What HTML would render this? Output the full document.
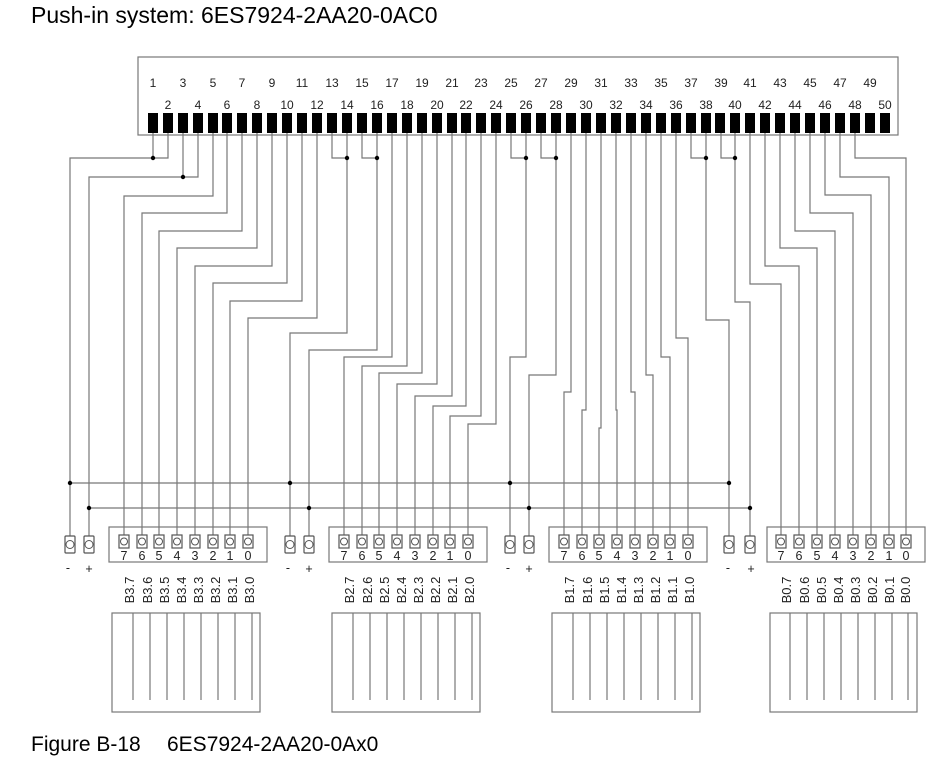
<!DOCTYPE html>
<html><head><meta charset="utf-8"><style>
html,body{margin:0;padding:0;background:#fff;}
svg{display:block;}
.w{fill:none;stroke:#777;stroke-width:1.2;}
.t{font-family:"Liberation Sans",sans-serif;fill:#222;}
</style></head><body>
<svg width="937" height="772" viewBox="0 0 937 772" xmlns="http://www.w3.org/2000/svg">
<text class="t" x="31" y="23" font-size="23" style="fill:#000">Push-in system: 6ES7924-2AA20-0AC0</text>
<text class="t" x="31" y="751" font-size="21" style="fill:#000">Figure B-18</text>
<text class="t" x="167" y="751" font-size="21" style="fill:#000">6ES7924-2AA20-0Ax0</text>

<rect x="138" y="57" width="760" height="78" fill="none" stroke="#777" stroke-width="1.2"/>
<g class="t" font-size="12" text-anchor="middle">
<text x="153" y="87">1</text><text x="183" y="87">3</text><text x="213" y="87">5</text><text x="242" y="87">7</text><text x="272" y="87">9</text><text x="302" y="87">11</text><text x="332" y="87">13</text><text x="362" y="87">15</text><text x="392" y="87">17</text><text x="422" y="87">19</text><text x="452" y="87">21</text><text x="481" y="87">23</text><text x="511" y="87">25</text><text x="541" y="87">27</text><text x="571" y="87">29</text><text x="601" y="87">31</text><text x="631" y="87">33</text><text x="661" y="87">35</text><text x="691" y="87">37</text><text x="721" y="87">39</text><text x="750" y="87">41</text><text x="780" y="87">43</text><text x="810" y="87">45</text><text x="840" y="87">47</text><text x="870" y="87">49</text>
<text x="168" y="109">2</text><text x="198" y="109">4</text><text x="227" y="109">6</text><text x="257" y="109">8</text><text x="287" y="109">10</text><text x="317" y="109">12</text><text x="347" y="109">14</text><text x="377" y="109">16</text><text x="407" y="109">18</text><text x="437" y="109">20</text><text x="466" y="109">22</text><text x="496" y="109">24</text><text x="526" y="109">26</text><text x="556" y="109">28</text><text x="586" y="109">30</text><text x="616" y="109">32</text><text x="646" y="109">34</text><text x="676" y="109">36</text><text x="706" y="109">38</text><text x="735" y="109">40</text><text x="765" y="109">42</text><text x="795" y="109">44</text><text x="825" y="109">46</text><text x="855" y="109">48</text><text x="885" y="109">50</text>
</g>
<g fill="#000">
<rect x="148" y="113" width="10" height="20"/><rect x="163" y="113" width="10" height="20"/><rect x="178" y="113" width="10" height="20"/><rect x="193" y="113" width="10" height="20"/><rect x="208" y="113" width="10" height="20"/><rect x="222" y="113" width="10" height="20"/><rect x="237" y="113" width="10" height="20"/><rect x="252" y="113" width="10" height="20"/><rect x="267" y="113" width="10" height="20"/><rect x="282" y="113" width="10" height="20"/>
<rect x="297" y="113" width="10" height="20"/><rect x="312" y="113" width="10" height="20"/><rect x="327" y="113" width="10" height="20"/><rect x="342" y="113" width="10" height="20"/><rect x="357" y="113" width="10" height="20"/><rect x="372" y="113" width="10" height="20"/><rect x="387" y="113" width="10" height="20"/><rect x="402" y="113" width="10" height="20"/><rect x="417" y="113" width="10" height="20"/><rect x="432" y="113" width="10" height="20"/>
<rect x="447" y="113" width="10" height="20"/><rect x="461" y="113" width="10" height="20"/><rect x="476" y="113" width="10" height="20"/><rect x="491" y="113" width="10" height="20"/><rect x="506" y="113" width="10" height="20"/><rect x="521" y="113" width="10" height="20"/><rect x="536" y="113" width="10" height="20"/><rect x="551" y="113" width="10" height="20"/><rect x="566" y="113" width="10" height="20"/><rect x="581" y="113" width="10" height="20"/>
<rect x="596" y="113" width="10" height="20"/><rect x="611" y="113" width="10" height="20"/><rect x="626" y="113" width="10" height="20"/><rect x="641" y="113" width="10" height="20"/><rect x="656" y="113" width="10" height="20"/><rect x="671" y="113" width="10" height="20"/><rect x="686" y="113" width="10" height="20"/><rect x="701" y="113" width="10" height="20"/><rect x="715" y="113" width="10" height="20"/><rect x="730" y="113" width="10" height="20"/>
<rect x="745" y="113" width="10" height="20"/><rect x="760" y="113" width="10" height="20"/><rect x="775" y="113" width="10" height="20"/><rect x="790" y="113" width="10" height="20"/><rect x="805" y="113" width="10" height="20"/><rect x="820" y="113" width="10" height="20"/><rect x="835" y="113" width="10" height="20"/><rect x="850" y="113" width="10" height="20"/><rect x="865" y="113" width="10" height="20"/><rect x="880" y="113" width="10" height="20"/>
</g>

<g class="w">
<polyline points="153,133 153,158"/><polyline points="168,133 168,158 70,158 70,536"/>
<polyline points="183,133 183,177"/><polyline points="198,133 198,177 89,177 89,536"/>
<polyline points="213,133 213,196 124,196 124,536"/>
<polyline points="227,133 227,213 142,213 142,536"/>
<polyline points="242,133 242,231 159,231 159,536"/>
<polyline points="257,133 257,248 177,248 177,536"/>
<polyline points="272,133 272,266 195,266 195,536"/>
<polyline points="287,133 287,283 213,283 213,536"/>
<polyline points="302,133 302,301 230,301 230,536"/>
<polyline points="317,133 317,318 248,318 248,536"/>
<polyline points="332,133 332,158 347,158"/><polyline points="347,133 347,333 290,333 290,536"/>
<polyline points="362,133 362,158 377,158"/><polyline points="377,133 377,350 309,350 309,536"/>
<polyline points="392,133 392,357 344,357 344,536"/>
<polyline points="407,133 407,366 362,366 362,536"/>
<polyline points="422,133 422,373 379,373 379,536"/>
<polyline points="437,133 437,384 397,384 397,536"/>
<polyline points="452,133 452,396 415,396 415,536"/>
<polyline points="466,133 466,406 433,406 433,536"/>
<polyline points="481,133 481,416 450,416 450,536"/>
<polyline points="496,133 496,424 468,424 468,536"/>
<polyline points="511,133 511,158 526,158"/><polyline points="526,133 526,357 510,357 510,536"/>
<polyline points="541,133 541,158 556,158"/><polyline points="556,133 556,375 529,375 529,536"/>
<polyline points="571,133 571,392 564,392 564,536"/>
<polyline points="586,133 586,410 582,410 582,536"/>
<polyline points="601,133 601,428 599,428 599,536"/>
<polyline points="616,133 616,410 617,410 617,536"/>
<polyline points="631,133 631,392 635,392 635,536"/>
<polyline points="646,133 646,375 653,375 653,536"/>
<polyline points="661,133 661,357 670,357 670,536"/>
<polyline points="676,133 676,338 688,338 688,536"/>
<polyline points="691,133 691,158 706,158"/><polyline points="706,133 706,320 729,320 729,536"/>
<polyline points="721,133 721,158 735,158"/><polyline points="735,133 735,302 750,302 750,536"/>
<polyline points="750,133 750,284 781,284 781,536"/>
<polyline points="765,133 765,266 799,266 799,536"/>
<polyline points="780,133 780,248 817,248 817,536"/>
<polyline points="795,133 795,231 835,231 835,536"/>
<polyline points="810,133 810,213 853,213 853,536"/>
<polyline points="825,133 825,195 871,195 871,536"/>
<polyline points="840,133 840,177 889,177 889,536"/>
<polyline points="855,133 855,158 906,158 906,536"/>
<line x1="70" y1="483" x2="729" y2="483"/>
<line x1="89" y1="508" x2="750" y2="508"/>
</g>
<g fill="#000">
<circle cx="153" cy="158" r="2.2"/><circle cx="183" cy="177" r="2.2"/>
<circle cx="347" cy="158" r="2.2"/><circle cx="377" cy="158" r="2.2"/>
<circle cx="526" cy="158" r="2.2"/><circle cx="556" cy="158" r="2.2"/>
<circle cx="706" cy="158" r="2.2"/><circle cx="735" cy="158" r="2.2"/>
<circle cx="70" cy="483" r="2.2"/><circle cx="290" cy="483" r="2.2"/><circle cx="510" cy="483" r="2.2"/><circle cx="729" cy="483" r="2.2"/>
<circle cx="89" cy="508" r="2.2"/><circle cx="309" cy="508" r="2.2"/><circle cx="529" cy="508" r="2.2"/><circle cx="750" cy="508" r="2.2"/>
</g>

<g fill="none" stroke="#777" stroke-width="1.2">
<rect x="109" y="527" width="158" height="35"/>
<rect x="329" y="527" width="158" height="35"/>
<rect x="549" y="527" width="158" height="35"/>
<rect x="767" y="527" width="158" height="35"/>
<rect x="112" y="613" width="148" height="99"/>
<rect x="332" y="613" width="148" height="99"/>
<rect x="552" y="613" width="148" height="99"/>
<rect x="770" y="613" width="147" height="99"/>
</g>
<g fill="#fff" stroke="#555" stroke-width="1.2">
<rect x="65" y="536" width="10" height="17" rx="1"/><rect x="84" y="536" width="10" height="17" rx="1"/>
<rect x="285" y="536" width="10" height="17" rx="1"/><rect x="304" y="536" width="10" height="17" rx="1"/>
<rect x="505" y="536" width="10" height="17" rx="1"/><rect x="524" y="536" width="10" height="17" rx="1"/>
<rect x="724" y="536" width="10" height="17" rx="1"/><rect x="745" y="536" width="10" height="17" rx="1"/>
<rect x="119" y="535" width="10" height="13"/><rect x="137" y="535" width="10" height="13"/><rect x="154" y="535" width="10" height="13"/><rect x="172" y="535" width="10" height="13"/><rect x="190" y="535" width="10" height="13"/><rect x="208" y="535" width="10" height="13"/><rect x="225" y="535" width="10" height="13"/><rect x="243" y="535" width="10" height="13"/>
<rect x="339" y="535" width="10" height="13"/><rect x="357" y="535" width="10" height="13"/><rect x="374" y="535" width="10" height="13"/><rect x="392" y="535" width="10" height="13"/><rect x="410" y="535" width="10" height="13"/><rect x="428" y="535" width="10" height="13"/><rect x="445" y="535" width="10" height="13"/><rect x="463" y="535" width="10" height="13"/>
<rect x="559" y="535" width="10" height="13"/><rect x="577" y="535" width="10" height="13"/><rect x="594" y="535" width="10" height="13"/><rect x="612" y="535" width="10" height="13"/><rect x="630" y="535" width="10" height="13"/><rect x="648" y="535" width="10" height="13"/><rect x="665" y="535" width="10" height="13"/><rect x="683" y="535" width="10" height="13"/>
<rect x="776" y="535" width="10" height="13"/><rect x="794" y="535" width="10" height="13"/><rect x="812" y="535" width="10" height="13"/><rect x="830" y="535" width="10" height="13"/><rect x="848" y="535" width="10" height="13"/><rect x="866" y="535" width="10" height="13"/><rect x="884" y="535" width="10" height="13"/><rect x="901" y="535" width="10" height="13"/>
</g>
<g fill="none" stroke="#555" stroke-width="1">
<circle cx="70" cy="544.5" r="4"/><circle cx="89" cy="544.5" r="4"/><circle cx="290" cy="544.5" r="4"/><circle cx="309" cy="544.5" r="4"/><circle cx="510" cy="544.5" r="4"/><circle cx="529" cy="544.5" r="4"/><circle cx="729" cy="544.5" r="4"/><circle cx="750" cy="544.5" r="4"/>
<circle cx="124" cy="541.5" r="3.5"/><circle cx="142" cy="541.5" r="3.5"/><circle cx="159" cy="541.5" r="3.5"/><circle cx="177" cy="541.5" r="3.5"/><circle cx="195" cy="541.5" r="3.5"/><circle cx="213" cy="541.5" r="3.5"/><circle cx="230" cy="541.5" r="3.5"/><circle cx="248" cy="541.5" r="3.5"/>
<circle cx="344" cy="541.5" r="3.5"/><circle cx="362" cy="541.5" r="3.5"/><circle cx="379" cy="541.5" r="3.5"/><circle cx="397" cy="541.5" r="3.5"/><circle cx="415" cy="541.5" r="3.5"/><circle cx="433" cy="541.5" r="3.5"/><circle cx="450" cy="541.5" r="3.5"/><circle cx="468" cy="541.5" r="3.5"/>
<circle cx="564" cy="541.5" r="3.5"/><circle cx="582" cy="541.5" r="3.5"/><circle cx="599" cy="541.5" r="3.5"/><circle cx="617" cy="541.5" r="3.5"/><circle cx="635" cy="541.5" r="3.5"/><circle cx="653" cy="541.5" r="3.5"/><circle cx="670" cy="541.5" r="3.5"/><circle cx="688" cy="541.5" r="3.5"/>
<circle cx="781" cy="541.5" r="3.5"/><circle cx="799" cy="541.5" r="3.5"/><circle cx="817" cy="541.5" r="3.5"/><circle cx="835" cy="541.5" r="3.5"/><circle cx="853" cy="541.5" r="3.5"/><circle cx="871" cy="541.5" r="3.5"/><circle cx="889" cy="541.5" r="3.5"/><circle cx="906" cy="541.5" r="3.5"/>
</g>
<g class="t" font-size="12.5" text-anchor="middle">
<text x="124" y="560">7</text><text x="142" y="560">6</text><text x="159" y="560">5</text><text x="177" y="560">4</text><text x="195" y="560">3</text><text x="213" y="560">2</text><text x="230" y="560">1</text><text x="248" y="560">0</text>
<text x="344" y="560">7</text><text x="362" y="560">6</text><text x="379" y="560">5</text><text x="397" y="560">4</text><text x="415" y="560">3</text><text x="433" y="560">2</text><text x="450" y="560">1</text><text x="468" y="560">0</text>
<text x="564" y="560">7</text><text x="582" y="560">6</text><text x="599" y="560">5</text><text x="617" y="560">4</text><text x="635" y="560">3</text><text x="653" y="560">2</text><text x="670" y="560">1</text><text x="688" y="560">0</text>
<text x="781" y="560">7</text><text x="799" y="560">6</text><text x="817" y="560">5</text><text x="835" y="560">4</text><text x="853" y="560">3</text><text x="871" y="560">2</text><text x="889" y="560">1</text><text x="906" y="560">0</text>
<text x="68" y="572">-</text><text x="89" y="573">+</text><text x="288" y="572">-</text><text x="309" y="573">+</text><text x="508" y="572">-</text><text x="529" y="573">+</text><text x="728" y="572">-</text><text x="751" y="573">+</text>
</g>
<g class="t" font-size="13" text-anchor="middle">
<text transform="translate(134,590) rotate(-90)">B3.7</text><text transform="translate(152,590) rotate(-90)">B3.6</text><text transform="translate(169,590) rotate(-90)">B3.5</text><text transform="translate(186,590) rotate(-90)">B3.4</text><text transform="translate(203,590) rotate(-90)">B3.3</text><text transform="translate(220,590) rotate(-90)">B3.2</text><text transform="translate(237,590) rotate(-90)">B3.1</text><text transform="translate(254,590) rotate(-90)">B3.0</text>
<text transform="translate(354,590) rotate(-90)">B2.7</text><text transform="translate(372,590) rotate(-90)">B2.6</text><text transform="translate(389,590) rotate(-90)">B2.5</text><text transform="translate(406,590) rotate(-90)">B2.4</text><text transform="translate(423,590) rotate(-90)">B2.3</text><text transform="translate(440,590) rotate(-90)">B2.2</text><text transform="translate(457,590) rotate(-90)">B2.1</text><text transform="translate(474,590) rotate(-90)">B2.0</text>
<text transform="translate(574,590) rotate(-90)">B1.7</text><text transform="translate(592,590) rotate(-90)">B1.6</text><text transform="translate(609,590) rotate(-90)">B1.5</text><text transform="translate(626,590) rotate(-90)">B1.4</text><text transform="translate(643,590) rotate(-90)">B1.3</text><text transform="translate(660,590) rotate(-90)">B1.2</text><text transform="translate(677,590) rotate(-90)">B1.1</text><text transform="translate(694,590) rotate(-90)">B1.0</text>
<text transform="translate(791,590) rotate(-90)">B0.7</text><text transform="translate(809,590) rotate(-90)">B0.6</text><text transform="translate(826,590) rotate(-90)">B0.5</text><text transform="translate(843,590) rotate(-90)">B0.4</text><text transform="translate(860,590) rotate(-90)">B0.3</text><text transform="translate(877,590) rotate(-90)">B0.2</text><text transform="translate(894,590) rotate(-90)">B0.1</text><text transform="translate(910,590) rotate(-90)">B0.0</text>
</g>
<g class="w" stroke="#888">
<line x1="133" y1="613" x2="133" y2="700"/><line x1="150" y1="613" x2="150" y2="700"/><line x1="167" y1="613" x2="167" y2="700"/><line x1="184" y1="613" x2="184" y2="700"/><line x1="201" y1="613" x2="201" y2="700"/><line x1="218" y1="613" x2="218" y2="700"/><line x1="235" y1="613" x2="235" y2="700"/><line x1="252" y1="613" x2="252" y2="700"/>
<line x1="353" y1="613" x2="353" y2="700"/><line x1="370" y1="613" x2="370" y2="700"/><line x1="387" y1="613" x2="387" y2="700"/><line x1="404" y1="613" x2="404" y2="700"/><line x1="421" y1="613" x2="421" y2="700"/><line x1="438" y1="613" x2="438" y2="700"/><line x1="455" y1="613" x2="455" y2="700"/><line x1="472" y1="613" x2="472" y2="700"/>
<line x1="573" y1="613" x2="573" y2="700"/><line x1="590" y1="613" x2="590" y2="700"/><line x1="607" y1="613" x2="607" y2="700"/><line x1="624" y1="613" x2="624" y2="700"/><line x1="641" y1="613" x2="641" y2="700"/><line x1="658" y1="613" x2="658" y2="700"/><line x1="675" y1="613" x2="675" y2="700"/><line x1="692" y1="613" x2="692" y2="700"/>
<line x1="790" y1="613" x2="790" y2="700"/><line x1="807" y1="613" x2="807" y2="700"/><line x1="824" y1="613" x2="824" y2="700"/><line x1="841" y1="613" x2="841" y2="700"/><line x1="858" y1="613" x2="858" y2="700"/><line x1="875" y1="613" x2="875" y2="700"/><line x1="892" y1="613" x2="892" y2="700"/><line x1="908" y1="613" x2="908" y2="700"/>
</g>
</svg>
</body></html>
